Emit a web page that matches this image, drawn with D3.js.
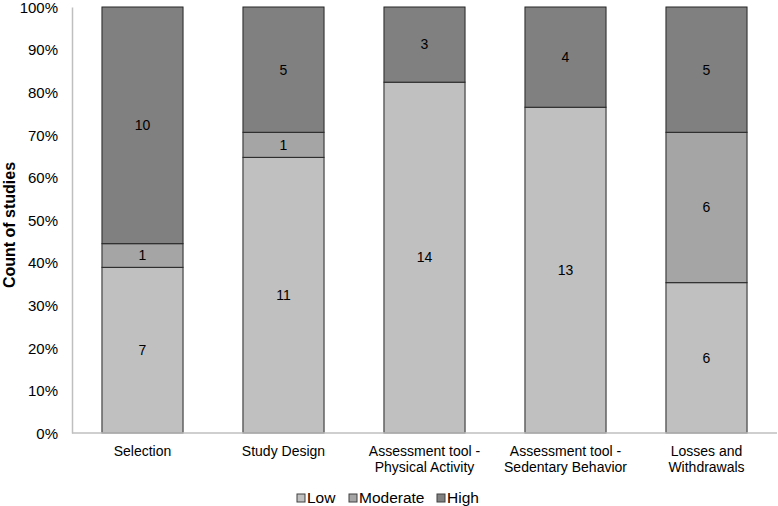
<!DOCTYPE html>
<html>
<head>
<meta charset="utf-8">
<script src="https://cdn.jsdelivr.net/npm/d3@7"></script>
<style>
  body { margin: 0; background: #fff; }
  text { font-family: "Liberation Sans", Arial, sans-serif; fill: #000; }
</style>
</head>
<body>
<div id="chart"></div>
<script>
// data
const categories = [
  ["Selection"],
  ["Study Design"],
  ["Assessment tool -", "Physical Activity"],
  ["Assessment tool -", "Sedentary Behavior"],
  ["Losses and", "Withdrawals"]
];
const seriesNames = ["Low", "Moderate", "High"];
const low = [7, 11, 14, 13, 6];
const moderate = [1, 1, 0, 0, 6];
const high = [10, 5, 3, 4, 5];
const yTicks = [0, 0.1, 0.2, 0.3, 0.4, 0.5, 0.6, 0.7, 0.8, 0.9, 1];

const colors = { Low: "#c0c0c0", Moderate: "#a5a5a5", High: "#808080" };

const W = 778, H = 506;
const margin = { top: 7, right: 1, bottom: 73, left: 72 };

const svg = d3.select('#chart').append('svg')
  .attr('width', W).attr('height', H);

const rows = categories.map((c, i) => ({
  key: i, label: c, Low: low[i], Moderate: moderate[i], High: high[i]
}));

const stack = d3.stack().keys(seriesNames).offset(d3.stackOffsetExpand);
const layers = stack(rows);

const x = d3.scaleBand()
  .domain(rows.map(r => r.key))
  .range([margin.left, W - margin.right])
  .paddingInner(0.425).paddingOuter(0.2125);

const y = d3.scaleLinear().domain([0, 1]).range([H - margin.bottom, margin.top]);

// y axis labels
const yAxis = svg.append('g')
  .attr('transform', `translate(${margin.left},0)`)
  .call(d3.axisLeft(y).tickValues(yTicks).tickFormat(d3.format('.0%')).tickSize(0).tickPadding(14));
yAxis.select('.domain').attr('stroke', '#bfbfbf').attr('stroke-width', 1.5);
yAxis.selectAll('text').style('font-size', '15px').attr('dy', '0.35em');

// bars
layers.forEach(layer => {
  svg.append('g').selectAll('rect')
    .data(layer.filter(d => d[1] - d[0] > 0))
    .join('rect')
      .attr('x', d => x(d.data.key))
      .attr('width', x.bandwidth())
      .attr('y', d => y(d[1]))
      .attr('height', d => y(d[0]) - y(d[1]))
      .attr('fill', colors[layer.key])
      .attr('stroke', '#262626')
      .attr('stroke-width', 1);

  svg.append('g').selectAll('text')
    .data(layer.filter(d => d[1] - d[0] > 0))
    .join('text')
      .attr('x', d => x(d.data.key) + x.bandwidth() / 2)
      .attr('y', d => y((d[0] + d[1]) / 2))
      .attr('dy', '0.35em')
      .attr('text-anchor', 'middle')
      .style('font-size', '14px')
      .text(d => d.data[layer.key]);
});

// x axis
const xAxisY = H - margin.bottom;
svg.append('line')
  .attr('x1', margin.left).attr('x2', W - margin.right)
  .attr('y1', xAxisY).attr('y2', xAxisY)
  .attr('stroke', '#bfbfbf').attr('stroke-width', 1.5);

const xl = svg.append('g').selectAll('text')
  .data(rows)
  .join('text')
    .attr('x', d => x(d.key) + x.bandwidth() / 2)
    .attr('y', xAxisY + 23)
    .attr('text-anchor', 'middle')
    .style('font-size', '14px');
xl.selectAll('tspan')
  .data(d => d.label.map(t => ({ t, cx: x(d.key) + x.bandwidth() / 2 })))
  .join('tspan')
    .attr('x', d => d.cx)
    .attr('dy', (d, i) => i === 0 ? 0 : 15.5)
    .text(d => d.t);

// y title
svg.append('text')
  .attr('transform', 'translate(15,225) rotate(-90)')
  .attr('text-anchor', 'middle')
  .style('font-size', '16px')
  .style('font-weight', 'bold')
  .text('Count of studies');

// legend
const legendItems = [
  { name: "Low", x: 297 },
  { name: "Moderate", x: 349 },
  { name: "High", x: 437 }
];
const lg = svg.append('g').attr('transform', 'translate(0,498)');
legendItems.forEach(it => {
  lg.append('rect')
    .attr('x', it.x).attr('y', -4).attr('width', 8).attr('height', 8)
    .attr('fill', colors[it.name]).attr('stroke', '#404040').attr('stroke-width', 1);
  lg.append('text')
    .attr('x', it.x + 10).attr('y', 0).attr('dy', '0.35em')
    .style('font-size', '15.5px')
    .text(it.name);
});
</script>
</body>
</html>
